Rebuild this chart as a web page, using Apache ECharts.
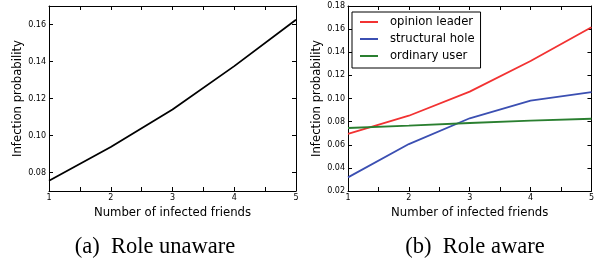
<!DOCTYPE html>
<html lang="en">
  <head>
    <meta charset="UTF-8" />
    <title>infection probability</title>
    <script src="https://cdn.jsdelivr.net/npm/echarts@6/dist/echarts.min.js"></script>
    <style>
      html, body { margin: 0; padding: 0; background: #fff; }
      #main { width: 597px; height: 263px; }
    </style>
  </head>
  <body>
    <div id="main"></div>
    <script>
      // data
      const friends = [1, 2, 3, 4, 5]
      const roleUnaware = [0.0755, 0.0938, 0.1141, 0.1375, 0.1626]
      const opinionLeader = [0.0695, 0.0851, 0.1059, 0.1324, 0.1616]
      const structuralHole = [0.0318, 0.0606, 0.0829, 0.0981, 0.1056]
      const ordinaryUser = [0.0745, 0.0765, 0.0788, 0.0808, 0.0825]
      const ticksA = [0.08, 0.10, 0.12, 0.14, 0.16]
      const ticksB = [0.02, 0.04, 0.06, 0.08, 0.10, 0.12, 0.14, 0.16, 0.18]

      const font = 'DejaVu Sans'
      const pairs = ys => friends.map((x, i) => [x, ys[i]])

      const xBase = (gridIndex) => ({
        type: 'value', gridIndex, min: 1, max: 5, interval: 0.5,
        axisLine: { lineStyle: { color: '#000', width: 1 } },
        axisTick: { inside: true, length: 4, lineStyle: { color: '#000' } },
        splitLine: { show: false }
      })
      const xAxis = (gridIndex) => ({
        ...xBase(gridIndex),
        name: 'Number of infected friends',
        nameLocation: 'middle',
        nameGap: 12,
        nameTextStyle: { fontFamily: font, fontSize: 11.7, color: '#000' },
        axisLabel: {
          customValues: friends, margin: 3,
          fontFamily: font, fontSize: 8, color: '#000',
          formatter: v => String(v)
        }
      })
      const xTop = (gridIndex) => ({
        ...xBase(gridIndex), position: 'top', axisLabel: { show: false }
      })
      const yBase = (gridIndex, min, max, ticks) => ({
        type: 'value', gridIndex, min, max,
        axisLine: { show: true, lineStyle: { color: '#000', width: 1 } },
        axisTick: { show: true, inside: true, length: 4, customValues: ticks, lineStyle: { color: '#000' } },
        splitLine: { show: false }
      })
      const yAxis = (gridIndex, min, max, ticks, gap) => ({
        ...yBase(gridIndex, min, max, ticks),
        name: 'Infection probability',
        nameLocation: 'middle',
        nameGap: gap,
        nameTextStyle: { fontFamily: font, fontSize: 11.7, color: '#000' },
        axisLabel: {
          customValues: ticks, margin: 3,
          fontFamily: font, fontSize: 8, color: '#000',
          formatter: v => v.toFixed(2)
        }
      })
      const yRight = (gridIndex, min, max, ticks) => ({
        ...yBase(gridIndex, min, max, ticks), position: 'right', axisLabel: { show: false }
      })

      const line = (name, ys, color, xi, yi) => ({
        name, type: 'line', data: pairs(ys),
        xAxisIndex: xi, yAxisIndex: yi,
        showSymbol: false, symbol: 'none',
        lineStyle: { color, width: 1.8 },
        itemStyle: { color },
        animation: false
      })

      const chart = echarts.init(document.getElementById('main'))
      chart.setOption({
        backgroundColor: '#fff',
        animation: false,
        title: [
          { text: '(a)  Role unaware', left: 150, textAlign: 'center', top: 231,
            textStyle: { fontFamily: 'Liberation Serif', fontSize: 22.5, fontWeight: 'normal', color: '#000' } },
          { text: '(b)  Role aware', left: 470, textAlign: 'center', top: 231,
            textStyle: { fontFamily: 'Liberation Serif', fontSize: 22.5, fontWeight: 'normal', color: '#000' } }
        ],
        grid: [
          { left: 49, top: 6, width: 247, height: 185 },
          { left: 348, top: 6, width: 245, height: 185 }
        ],
        xAxis: [xAxis(0), xTop(0), xAxis(1), xTop(1)],
        yAxis: [
          yAxis(0, 0.07, 0.17, ticksA, 20),
          yRight(0, 0.07, 0.17, ticksA),
          yAxis(1, 0.02, 0.18, ticksB, 24),
          yRight(1, 0.02, 0.18, ticksB)
        ],
        legend: {
          data: ['opinion leader', 'structural hole', 'ordinary user'],
          orient: 'vertical',
          left: 352, top: 12,
          padding: [3, 6, 5, 8],
          itemGap: 3,
          itemWidth: 18, itemHeight: 2,
          icon: 'rect',
          borderColor: '#000', borderWidth: 1, borderRadius: 0,
          backgroundColor: '#fff',
          textStyle: { fontFamily: font, fontSize: 11.6, color: '#000', lineHeight: 14, padding: [0, 0, 0, 7] }
        },
        series: [
          line('role unaware', roleUnaware, '#000', 0, 0),
          line('opinion leader', opinionLeader, '#f23232', 2, 2),
          line('structural hole', structuralHole, '#3b4fb2', 2, 2),
          line('ordinary user', ordinaryUser, '#2a7f30', 2, 2)
        ]
      })
    </script>
  </body>
</html>
